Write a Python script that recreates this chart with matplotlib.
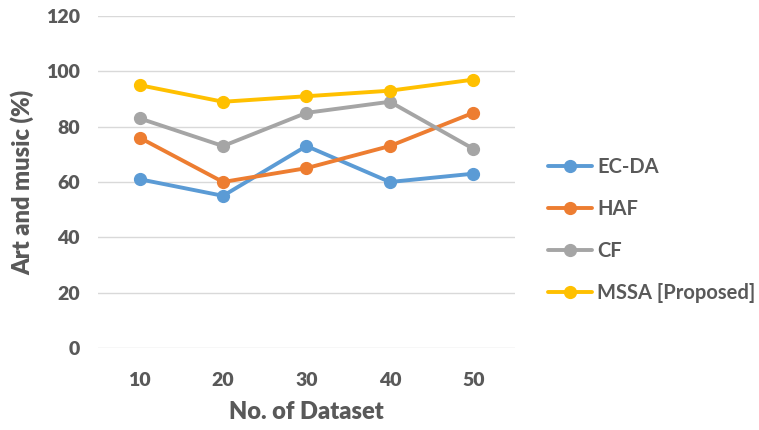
import matplotlib
matplotlib.use('Agg')
import matplotlib.pyplot as plt

# data
datasets = ['10', '20', '30', '40', '50']
ec_da = [61, 55, 73, 60, 63]
haf = [76, 60, 65, 73, 85]
cf = [83, 73, 85, 89, 72]
mssa = [95, 89, 91, 93, 97]

series = [
    (ec_da, 'EC-DA', '#5B9BD5'),
    (haf, 'HAF', '#ED7D31'),
    (cf, 'CF', '#A5A5A5'),
    (mssa, 'MSSA [Proposed]', '#FFC000'),
]

plt.rcParams['font.family'] = ['Lato', 'DejaVu Sans']
text_col = '#595959'

fig = plt.figure(figsize=(7.59, 4.30), dpi=100)
ax = fig.add_axes([0.129, 0.1907, 0.5495, 0.7721])

x = list(range(len(datasets)))
for vals, name, col in series:
    ax.plot(x, vals, color=col, linewidth=2.8, marker='o', markersize=8.5,
            label=name, solid_capstyle='round')

ax.set_xlim(-0.5, len(datasets) - 0.5)
ax.set_ylim(0, 120)
ax.set_yticks(range(0, 121, 20))
ax.set_xticks(x)
ax.set_xticklabels(datasets)
ax.grid(axis='y', color='#d9d9d9', linewidth=1)
ax.set_axisbelow(True)
for s in ax.spines.values():
    s.set_visible(False)
ax.tick_params(length=0, labelsize=14, labelcolor=text_col)
ax.tick_params(axis='x', pad=17)
ax.tick_params(axis='y', pad=13)
for lab in ax.get_xticklabels() + ax.get_yticklabels():
    lab.set_fontweight('heavy')

ax.set_xlabel('No. of Dataset', fontsize=17, fontweight='heavy', color=text_col, labelpad=9)
ax.set_ylabel('Art and music (%)', fontsize=17, fontweight='heavy', color=text_col, labelpad=8)

leg = ax.legend(loc='center left', bbox_to_anchor=(1.036, 0.355), frameon=False,
                prop={'weight': 'bold', 'size': 14.5}, labelspacing=1.1,
                handlelength=2.2, handletextpad=0.25)
for t in leg.get_texts():
    t.set_color(text_col)

fig.savefig('out.png', dpi=100, facecolor='white')
